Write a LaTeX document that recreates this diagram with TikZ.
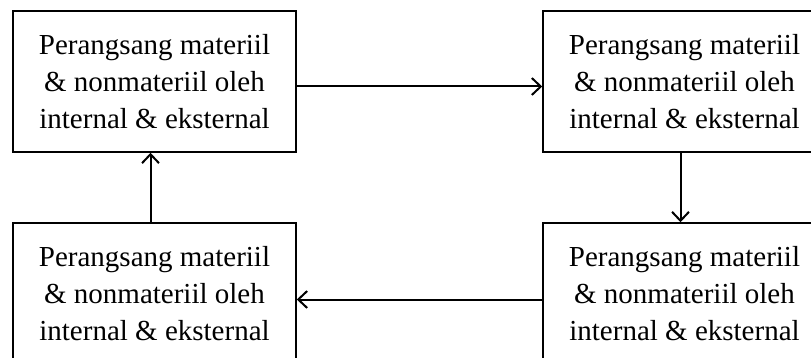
\documentclass[tikz,border=0pt]{standalone}
\usepackage{fontspec}
\setmainfont{Liberation Serif}
\usetikzlibrary{arrows.meta,positioning}

\begin{document}
\begin{tikzpicture}[x=1pt,y=-1pt,
    kotak/.style={draw,line width=1.5pt,minimum width=283pt,minimum height=141pt,
      align=center,font=\fontsize{29}{37}\selectfont,inner sep=0pt},
    panah/.style={line width=2pt,-{Straight Barb[length=9pt,width=17pt]}}]
  \useasboundingbox (0,0) rectangle (811,358);
  \clip (0,0) rectangle (811,358);
  \node[kotak] (A) at (154.5,81.5) {Perangsang materiil\\\& nonmateriil oleh\\internal \& eksternal};
  \node[kotak] (B) at (684.5,81.5) {Perangsang materiil\\\& nonmateriil oleh\\internal \& eksternal};
  \node[kotak] (C) at (684.5,293.5) {Perangsang materiil\\\& nonmateriil oleh\\internal \& eksternal};
  \node[kotak] (D) at (154.5,293.5) {Perangsang materiil\\\& nonmateriil oleh\\internal \& eksternal};
  \draw[panah] ([yshift=-5pt]A.east) -- ([yshift=-5pt]B.west);
  \draw[panah] ([xshift=-4pt]B.south) -- ([xshift=-4pt]C.north);
  \draw[panah] ([yshift=-6pt]C.west) -- ([yshift=-6pt]D.east);
  \draw[panah] ([xshift=-4pt]D.north) -- ([xshift=-4pt]A.south);
\end{tikzpicture}
\end{document}
